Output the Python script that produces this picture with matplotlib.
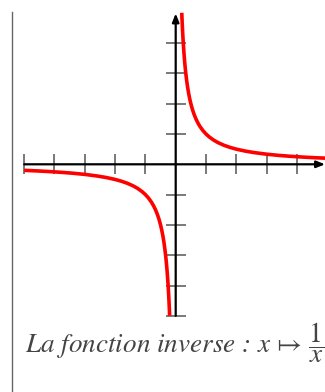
import matplotlib
matplotlib.use("Agg")
import matplotlib.pyplot as plt

# Data (branches of x -> 1/x)
x_pos = [0.2, 0.21, 0.22, 0.235, 0.25, 0.27, 0.29, 0.31, 0.33, 0.36, 0.39, 0.42, 0.46, 0.5,
         0.55, 0.6, 0.66, 0.73, 0.8, 0.9, 1.0, 1.1, 1.25, 1.4, 1.6, 1.8, 2.0, 2.3, 2.6, 3.0,
         3.4, 3.8, 4.2, 4.6, 4.93]
y_pos = [5.0, 4.762, 4.545, 4.255, 4.0, 3.704, 3.448, 3.226, 3.030, 2.778, 2.564, 2.381,
         2.174, 2.0, 1.818, 1.667, 1.515, 1.370, 1.25, 1.111, 1.0, 0.909, 0.8, 0.714, 0.625,
         0.556, 0.5, 0.435, 0.385, 0.333, 0.294, 0.263, 0.238, 0.217, 0.203]
x_neg = [-5.0, -4.6, -4.2, -3.8, -3.4, -3.0, -2.6, -2.3, -2.0, -1.8, -1.6, -1.4, -1.25, -1.1,
         -1.0, -0.9, -0.8, -0.73, -0.66, -0.6, -0.55, -0.5, -0.46, -0.42, -0.39, -0.36, -0.33,
         -0.31, -0.29, -0.27, -0.25, -0.235, -0.22, -0.21, -0.2]
y_neg = [-0.2, -0.217, -0.238, -0.263, -0.294, -0.333, -0.385, -0.435, -0.5, -0.556, -0.625,
         -0.714, -0.8, -0.909, -1.0, -1.111, -1.25, -1.370, -1.515, -1.667, -1.818, -2.0,
         -2.174, -2.381, -2.564, -2.778, -3.030, -3.226, -3.448, -3.704, -4.0, -4.255, -4.545,
         -4.762, -5.0]
x_ticks = [-5, -4, -3, -2, -1, 1, 2, 3, 4]
y_ticks = [-5, -4, -3, -2, -1, 1, 2, 3, 4]
caption = r"La fonction inverse : $x\,\mapsto\,\dfrac{1}{x}$"

W, H = 325, 392
unit = 30.3
ox, oy = 175.7, 164.3

plt.rcParams['mathtext.fontset'] = 'stix'
fig = plt.figure(figsize=(W / 100, H / 100), dpi=100)
ax = fig.add_axes([0, 0, 1, 1])
ax.set_xlim(-ox / unit, (W - ox) / unit)
ax.set_ylim((oy - H) / unit, oy / unit)
ax.axis('off')

tl = 10 / unit
for t in x_ticks:
    ax.plot([t, t], [-tl, tl], color='#555555', lw=1.1, solid_capstyle='butt', zorder=2)
for t in y_ticks:
    ax.plot([-tl, tl], [t, t], color='#555555', lw=1.1, solid_capstyle='butt', zorder=2)

arrow = dict(arrowstyle='-|>,head_length=0.5,head_width=0.2', lw=1.6, color='black',
             shrinkA=0, shrinkB=0)
ax.annotate('', xy=(4.93, 0), xytext=(-5, 0), arrowprops=arrow, zorder=3)
ax.annotate('', xy=(0, 4.98), xytext=(0, -5), arrowprops=arrow, zorder=3)

ax.plot(x_pos, y_pos, color='#ff0000', lw=2.6, zorder=4, solid_capstyle='butt')
ax.plot(x_neg, y_neg, color='#ff0000', lw=2.6, zorder=4, solid_capstyle='butt')

# left frame line
ax.plot([(12.3 - ox) / unit] * 2, [(oy - 12) / unit, (oy - H) / unit], color='#666666',
        lw=1.0, zorder=1)

fig.text(25 / W, 1 - 353 / H, caption, family='STIXGeneral', style='italic',
         fontsize=19.5, color='#444444', va='baseline', ha='left')

fig.savefig('out.png', dpi=100)
